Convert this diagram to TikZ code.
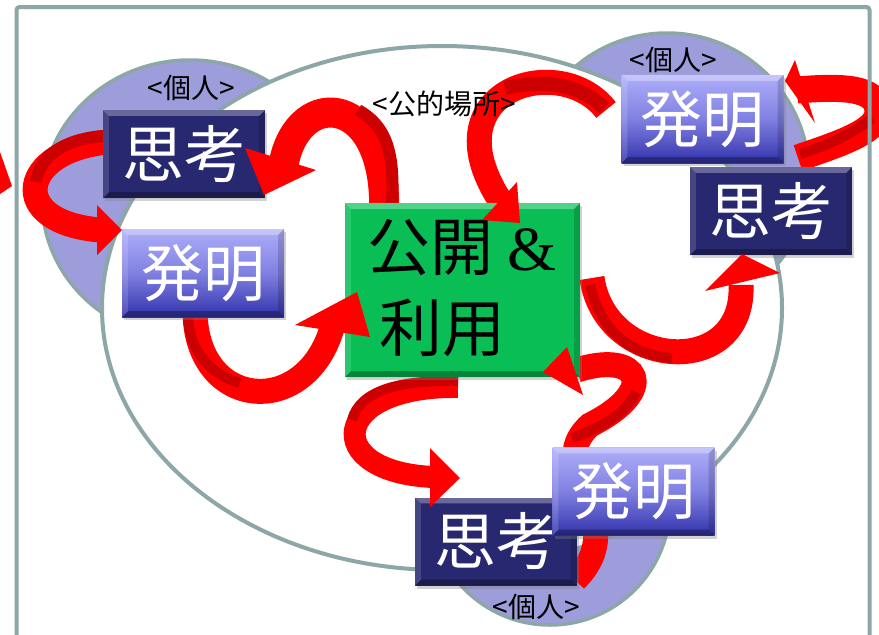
\documentclass[tikz,border=0pt]{standalone}
\usepackage{fontspec}
\setmainfont{Liberation Serif}
\newfontfamily\cjk{Noto Sans CJK JP}
\usetikzlibrary{calc,shadows}
\definecolor{framegray}{RGB}{141,166,168}
\definecolor{lav}{RGB}{157,157,219}
\definecolor{navy}{RGB}{40,40,112}
\definecolor{invtop}{RGB}{174,174,250}
\definecolor{invmid}{RGB}{128,128,226}
\definecolor{invbot}{RGB}{50,50,172}
\definecolor{grn}{RGB}{8,190,85}
\definecolor{arrred}{RGB}{255,0,0}
\definecolor{darkred}{RGB}{204,0,0}
\newcommand\mybev[1]{%
  \fill[white,opacity=.30] (#1.north west) -- (#1.north east) -- ($(#1.north east)+(-6,6)$) -- ($(#1.north west)+(6,6)$) -- cycle;
  \fill[black,opacity=.30] (#1.south west) -- (#1.south east) -- ($(#1.south east)+(-6,-6)$) -- ($(#1.south west)+(6,-6)$) -- cycle;
  \fill[white,opacity=.14] (#1.north west) -- ($(#1.north west)+(6,6)$) -- ($(#1.south west)+(6,-6)$) -- (#1.south west) -- cycle;
  \fill[black,opacity=.16] (#1.north east) -- ($(#1.north east)+(-6,6)$) -- ($(#1.south east)+(-6,-6)$) -- (#1.south east) -- cycle;
}
\begin{document}
\begin{tikzpicture}[x=1pt,y=-1pt,
  frame/.style={draw=framegray,line width=4pt,rounded corners=3pt},
  blob/.style={fill=lav,draw=framegray,line width=3.5pt},
  bigell/.style={fill=white,draw=framegray,line width=4pt},
  band/.style={draw=arrred,line width=25pt},
  stripe/.style={draw=darkred,line width=10pt},
  head/.style={fill=arrred},
  boxbase/.style={rectangle,inner sep=0pt,minimum width=162pt,minimum height=88pt,text=white,
    font=\cjk\fontsize{62}{62}\selectfont,
    drop shadow={shadow xshift=2pt,shadow yshift=-3pt,opacity=.35}},
  thinkbox/.style={boxbase,fill=navy},
  ideabox/.style={boxbase,top color=invtop,bottom color=invbot,middle color=invmid},
  greenbox/.style={rectangle,inner sep=0pt,minimum width=235pt,minimum height=174pt,fill=grn,
    drop shadow={shadow xshift=2pt,shadow yshift=-3pt,opacity=.35}},
  lbl/.style={font=\cjk\fontsize{28}{28}\selectfont,inner sep=0pt},
  gtxt/.style={font=\fontsize{63}{63}\selectfont,inner sep=0pt}
]
\useasboundingbox (0,0) rectangle (879,635);
\fill[white] (0,0) rectangle (879,635);

% personal areas
\draw[blob] (190,200) ellipse [x radius=148, y radius=140];
\draw[blob] (667,175) circle [radius=142];
\draw[blob] (550,505) circle [radius=120];
% public place
\draw[bigell] (442,308) ellipse [x radius=340, y radius=262];

% arrow bands
\coordinate (a1s) at (108,142);
\coordinate (a1e) at (100,230);
\draw[band] (a1s) .. controls (20,150) and (5,222) .. (a1e);
\draw[stripe,line width=12pt] (104,136) .. controls (60,139) and (38,160) .. (36,182);

\coordinate (a3s) at (384,212);
\coordinate (a3e) at (284,162);
\draw[band,line width=30pt] (a3s) .. controls (388,95) and (300,85) .. (a3e);
\draw[stripe,line width=12pt] (392,203) .. controls (395,150) and (385,125) .. (358,110);

\coordinate (a4s) at (606,110);
\coordinate (a4e) at (503,205);
\draw[band] (a4s) .. controls (560,50) and (425,90) .. (a4e);
\draw[stripe,line width=14pt] (604,108) .. controls (580,84) and (545,79) .. (505,88);

\coordinate (a5s) at (798,158);
\coordinate (a5m) at (878,110);
\coordinate (a5e) at (797,90);
\draw[band,line width=27pt] (a5s) .. controls (845,142) and (880,130) .. (a5m) .. controls (876,88) and (845,86) .. (a5e);
\draw[stripe] (800,154) .. controls (830,145) and (855,132) .. (872,118);

\coordinate (a6s) at (592,278);
\coordinate (a6e) at (741,285);
\draw[band] (a6s) .. controls (605,370) and (745,380) .. (a6e);
\draw[stripe] (590,285) .. controls (600,330) and (630,355) .. (672,358);

\coordinate (a7s) at (195,310);
\coordinate (a7e) at (332,328);
\draw[band] (a7s) .. controls (195,410) and (305,420) .. (a7e);
\draw[stripe] (188,318) .. controls (190,350) and (210,375) .. (240,383);

\coordinate (a8s) at (458,387);
\coordinate (a8e) at (433,477);
\draw[band,line width=22pt] (a8s) .. controls (330,385) and (320,472) .. (a8e);
\draw[stripe] (458,381) .. controls (400,380) and (360,390) .. (352,420);

\coordinate (a9s) at (575,580);
\coordinate (a9m) at (590,425);
\coordinate (a9e) at (577,370);
\draw[band] (a9s) .. controls (635,520) and (540,470) .. (a9m) .. controls (660,390) and (640,350) .. (a9e);
\draw[stripe] (636,392) .. controls (625,415) and (600,428) .. (572,438);

% labels
\node[lbl] (l1) at (191,88) {<個人>};
\node[lbl] (lp) at (444,104) {<公的場所>};
\node[lbl] (l2) at (673,60) {<個人>};
\node[lbl] (l3) at (536,607) {<個人>};

% boxes
\node[thinkbox] (t1) at (184,154) {思考};
\mybev{t1}
\node[ideabox] (h1) at (203,273) {発明};
\mybev{h1}
\node[greenbox] (g) at (462.5,290) {};
\mybev{g}
\node[gtxt] (gt1) at (462,248) {{\cjk 公開}\hspace{14pt}\&};
\node[gtxt] (gt2) at (442,328) {\cjk 利用};
\node[ideabox] (h2) at (702.5,119) {発明};
\mybev{h2}
\node[thinkbox] (t2) at (771,211) {思考};
\mybev{t2}
\node[thinkbox] (t3) at (496,541.5) {思考};
\mybev{t3}
\node[ideabox] (h3) at (633.5,491.5) {発明};
\mybev{h3}

% arrow heads
\fill[head] (97,205) -- (122,230) -- (97,255) -- cycle;
\fill[head] (0,152) -- (12,186) -- (0,194) -- cycle;
\fill[head] (245,148) -- (264,195) -- (316,170) -- cycle;
\fill[head] (482,220) -- (517,182) -- (520,223) -- cycle;
\fill[head] (795,60) -- (785,81) -- (815,123) -- cycle;
\fill[head] (705,291) -- (742,254) -- (780,273) -- cycle;
\fill[head] (295,325) -- (357,292) -- (370,337) -- cycle;
\fill[head] (430,448) -- (460,478) -- (430,507) -- cycle;
\fill[head] (543,372) -- (567,347) -- (583,395) -- cycle;

% frame
\draw[frame] (16.5,660) -- (16.5,7) -- (869.5,7) -- (869.5,660);
\end{tikzpicture}
\end{document}
